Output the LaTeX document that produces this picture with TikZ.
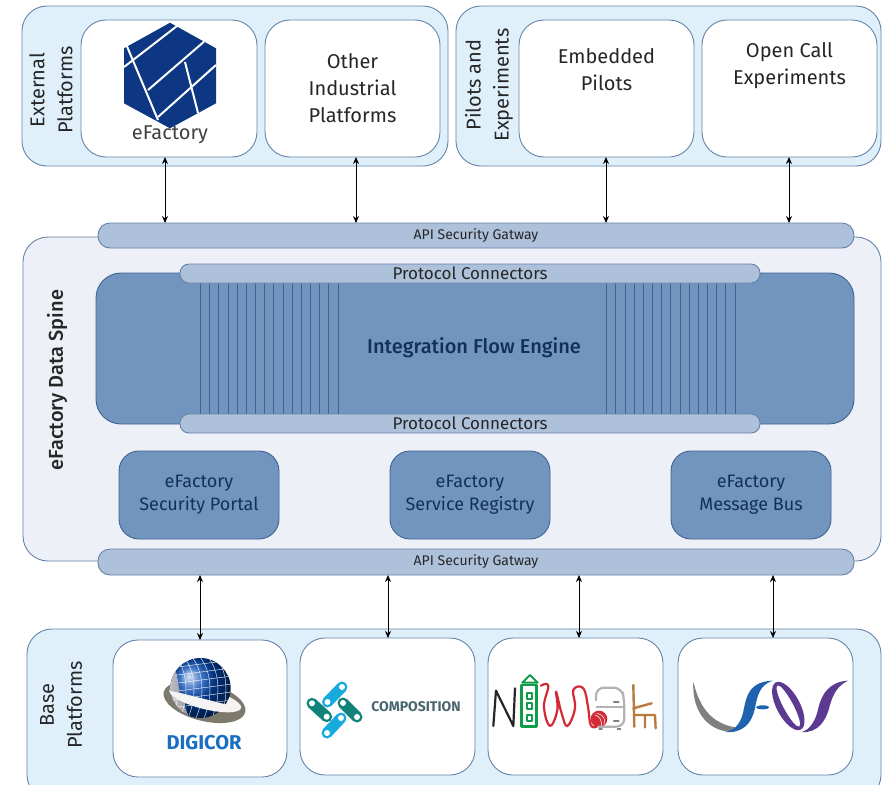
\documentclass[tikz,border=0pt]{standalone}
\usepackage{fontspec}
\setmainfont{Fira Sans}
\newfontfamily\medfont{Fira Sans Medium}
\usetikzlibrary{arrows.meta,shapes.geometric}
\definecolor{panelblue}{HTML}{DFF0FB}
\definecolor{panelline}{HTML}{6583A8}
\definecolor{spinefill}{HTML}{EDF1F7}
\definecolor{enginefill}{HTML}{7295C0}
\definecolor{engineline}{HTML}{3F6290}
\definecolor{barfill}{HTML}{AEC1DB}
\definecolor{navytext}{HTML}{14305A}
\definecolor{efblue}{HTML}{0D3782}
\definecolor{digiblue}{HTML}{1A6FC0}
\definecolor{ringgray}{HTML}{7D7A6C}
\definecolor{chainteal}{HTML}{12837A}
\definecolor{chainblue}{HTML}{17ABDC}
\definecolor{compgray}{HTML}{4A6670}
\definecolor{nimgreen}{HTML}{0F9D4A}
\definecolor{nimred}{HTML}{D42A35}
\definecolor{nimbrown}{HTML}{B97A3E}
\definecolor{fosblue}{HTML}{1F63AE}
\definecolor{fosviolet}{HTML}{5C3A92}
\tikzset{
  boxbase/.style={rounded corners=#1,inner sep=0pt,outer sep=0pt,line width=.9pt,align=center},
  panel/.style={boxbase=25pt,draw=panelline,fill=panelblue},
  whitebox/.style={boxbase=25pt,draw=panelline,fill=white,text=black!85,font=\fontsize{20}{27}\selectfont},
  spinepanel/.style={boxbase=25pt,draw=panelline,fill=spinefill},
  engine/.style={boxbase=25pt,draw=engineline,fill=enginefill,text=navytext,font=\medfont\fontsize{20}{24}\selectfont},
  smallbox/.style={boxbase=20pt,draw=engineline,fill=enginefill,text=navytext,font=\fontsize{18}{23}\selectfont},
  gatebar/.style={boxbase=12pt,draw=engineline!80,fill=barfill,text=black!85,font=\fontsize{14}{16}\selectfont},
  protobar/.style={boxbase=9pt,draw=engineline!80,fill=barfill,text=black!85,font=\fontsize{17}{18}\selectfont},
  sidelabel/.style={rotate=90,align=center,inner sep=0pt,text=black!85,font=\fontsize{20}{28}\selectfont},
  biarrow/.style={line width=.8pt,{Stealth[length=7pt,width=6pt]}-{Stealth[length=7pt,width=6pt]}},
  slat/.style={engineline,line width=.8pt},
  logotext/.style={inner sep=0pt,outer sep=0pt}
}
\newcommand{\bx}[7]{%
  \pgfmathsetmacro{\cxv}{(#2+#4)/2}\pgfmathsetmacro{\cyv}{(#3+#5)/2}%
  \pgfmathsetmacro{\wv}{#4-#2}\pgfmathsetmacro{\hv}{#5-#3}%
  \node[#6,minimum width=\wv pt,minimum height=\hv pt] (#1) at (\cxv,\cyv) {#7};}
\begin{document}
\begin{tikzpicture}[x=1pt,y=-1pt]
\clip (0,0) rectangle (887,785);
\fill[white] (0,0) rectangle (887,785);
% panels
\bx{ext}{22}{6}{448}{166}{panel}{}
\bx{pil}{456}{6}{881}{166}{panel}{}
\bx{spine}{23}{237}{881}{561}{spinepanel}{}
\bx{base}{27}{629}{881}{800}{panel}{}
% top boxes
\bx{efac}{81}{20}{257}{157}{whitebox}{}
\bx{other}{265}{20}{440}{157}{whitebox}{Other\\Industrial\\Platforms}
\bx{emb}{519}{20}{694}{157}{whitebox}{Embedded\\Pilots\\[12pt]}
\bx{open}{702}{20}{877}{157}{whitebox}{Open Call\\Experiments\\[24pt]}
\node[sidelabel] (extl) at (51,90) {External\\Platforms};
\node[sidelabel] (pill) at (489,85) {Pilots and\\Experiments};
\node[sidelabel,font=\medfont\fontsize{20}{24}\selectfont] (spl) at (57,380) {eFactory Data Spine};
\node[sidelabel] (basel) at (61,705) {Base\\Platforms};
% engine
\bx{eng}{96}{273}{854}{424}{engine}{}
\node[text=navytext,font=\medfont\fontsize{20}{24}\selectfont,inner sep=0pt] (engl) at (474,348) {Integration Flow Engine};
\foreach \i in {0,...,15}{\draw[slat] ({200.5+9.16*\i},280) -- ({200.5+9.16*\i},416);}
\foreach \i in {0,...,14}{\draw[slat] ({606.7+9.16*\i},280) -- ({606.7+9.16*\i},416);}
\bx{pt}{180}{264}{760}{283}{protobar}{}
\bx{pb}{180}{414}{760}{433}{protobar}{}
\node[inner sep=0pt,text=black!85,font=\fontsize{17}{18}\selectfont] (ptl) at (470,273) {Protocol Connectors};
\node[inner sep=0pt,text=black!85,font=\fontsize{17}{18}\selectfont] (pbl) at (470,423) {Protocol Connectors};
% services
\bx{sec}{119}{451}{279}{539}{smallbox}{eFactory\\Security Portal}
\bx{reg}{390}{451}{550}{539}{smallbox}{eFactory\\Service Registry}
\bx{bus}{671}{451}{831}{539}{smallbox}{eFactory\\Message Bus}
% gateways
\bx{gw}{98}{223}{854}{248}{gatebar}{API Security Gatway}
\bx{gb}{98}{549}{854}{575}{gatebar}{API Security Gatway}
% base boxes
\bx{digi}{113}{640}{287}{777}{whitebox}{}
\bx{comp}{300}{638}{475}{775}{whitebox}{}
\bx{nimb}{488}{638}{663}{775}{whitebox}{}
\bx{vfos}{678}{638}{853}{775}{whitebox}{}
% connectors
\coordinate (a1) at (165,200);\coordinate (a2) at (356,200);\coordinate (a3) at (606,200);\coordinate (a4) at (789,200);
\coordinate (b1) at (200,600);\coordinate (b2) at (388,600);\coordinate (b3) at (579,600);\coordinate (b4) at (773,600);
\draw[biarrow] (a1 |- efac.south) -- (a1 |- gw.north);
\draw[biarrow] (a2 |- other.south) -- (a2 |- gw.north);
\draw[biarrow] (a3 |- emb.south) -- (a3 |- gw.north);
\draw[biarrow] (a4 |- open.south) -- (a4 |- gw.north);
\draw[biarrow] (b1 |- gb.south) -- (b1 |- digi.north);
\draw[biarrow] (b2 |- gb.south) -- (b2 |- comp.north);
\draw[biarrow] (b3 |- gb.south) -- (b3 |- nimb.north);
\draw[biarrow] (b4 |- gb.south) -- (b4 |- vfos.north);
% eFactory logo
\begin{scope}
\fill[efblue] (170,22.7) -- (216,48.3) -- (216,103.3) -- (170,128.3) -- (124,103.3) -- (124,48.3) -- cycle;
\draw[white,line width=2pt] (177,26) -- (124,67);
\draw[white,line width=2pt] (126,44) -- (158,120);
\draw[white,line width=2pt] (204,41.7) -- (148,90);
\draw[white,line width=2pt] (185,62) -- (198,113);
\draw[white,line width=2pt] (216,65) -- (158,117);
\end{scope}
\node[logotext,text=black!75,font=\fontsize{20}{22}\selectfont] (efl) at (170,135) {eFactory};
% DIGICOR logo
\fill[ringgray,rotate around={-14:(204.5,702)}] (204.5,702) ellipse (42 and 19);
\shade[ball color=blue!60!cyan!70!black] (200.5,688) circle (30);
\begin{scope}
\clip (200.5,688) circle (30);
\shade[left color=white!90!black,right color=white!60!black,opacity=.95] (170,658) .. controls (180,675) and (180,695) .. (188,715) -- (165,715) -- (165,658) -- cycle;
\foreach \d in {-24,-16,-8,0,8,16,24}{
  \draw[white,line width=.4pt] (190+\d,655) .. controls (205+\d,670) and (205+\d,700) .. (195+\d,720);
  \draw[white,line width=.4pt] (170,684+\d) -- (232,676+\d);}
\end{scope}
\fill[white!92!ringgray,rotate around={-14:(204.5,702)}] (204.5,699) ellipse (37 and 10);
\begin{scope}
\clip[rotate around={-14:(204.5,702)}] (140,699) rectangle (270,670);
\shade[ball color=blue!60!cyan!70!black] (200.5,688) circle (30);
\clip (200.5,688) circle (30);
\foreach \d in {-24,-16,-8,0,8,16,24}{
  \draw[white,line width=.4pt] (190+\d,655) .. controls (205+\d,670) and (205+\d,700) .. (195+\d,720);
  \draw[white,line width=.4pt] (170,684+\d) -- (232,676+\d);}
\shade[left color=white!85!black,right color=white!60!black,opacity=.95] (170,658) .. controls (178,675) and (180,695) .. (184,715) -- (165,715) -- (165,658) -- cycle;
\end{scope}
\node[logotext,text=digiblue,font=\bfseries\fontsize{20}{22}\selectfont] (dgl) at (204,743) {DIGICOR};
% COMPOSITION logo
\foreach \xa/\ya/\xb/\yb/\cc in {327.5/702/342/687/chainblue,327/733/341/718/chainblue,312/703.3/326.7/716.7/chainteal,343/703/357/717/chainteal}{
  \draw[\cc,line width=11pt,line cap=round] (\xa,\ya) -- (\xb,\yb);
  \fill[white] (\xa,\ya) circle (3) (\xb,\yb) circle (3);}
\node[logotext,text=compgray,font=\bfseries\fontsize{14}{16}\selectfont] (cpl) at (416,707) {COMPOSITION};
% NIMBLE logo
\begin{scope}[shift={(480,620)},x=.3333pt,y=-.3333pt,line cap=round,line join=round]
\draw[black!85,line width=2.2pt] (40,318) -- (48,212) -- (100,318) -- (105,205);
\draw[nimgreen,line width=2.6pt] (124,195) rectangle (170,320);
\draw[nimgreen,line width=2pt] (150,165) -- (127,188) -- (173,188) -- cycle;
\foreach \yy in {228,258,294}{\draw[nimgreen,line width=2pt] (140,\yy-9) rectangle (156,\yy+9);}
\draw[nimred,line width=2.2pt] plot[smooth,tension=.7] coordinates {(183,197) (205,197) (192,260) (210,318) (232,270) (228,215) (245,280) (262,318) (285,265) (280,210) (310,205) (324,260) (332,315) (350,320)};
\fill[nimred] (357,297) circle (25);
\draw[white!80!nimred,line width=.7pt] (345,285) .. controls (360,290) and (365,300) .. (365,318) (352,280) .. controls (372,285) and (378,300) .. (372,312);
\draw[black!30,line width=2.2pt,rounded corners=8pt] (348,240) -- (348,203) -- (425,203) -- (433,240) -- (433,320) -- (355,320);
\draw[black!30,line width=2.2pt] (350,262) -- (430,262);
\draw[black!50,line width=2pt] (402,246) -- (416,246) (402,304) -- (416,304) (358,326) -- (366,326) (413,326) -- (421,326);
\draw[nimbrown,line width=2.4pt] (460,195) -- (463,320) (460,265) -- (515,250) (465,285) -- (525,285) (495,285) -- (495,322) (525,285) -- (527,325);
\end{scope}
% vFOS logo
\begin{scope}[shift={(480,620)},x=.3333pt,y=-.3333pt]
\fill[black!50] (640,185) .. controls (635,280) and (690,340) .. (765,335) -- (765,322) .. controls (700,310) and (660,270) .. cycle;
\fill[fosblue] (878,182) .. controls (810,185) and (800,225) .. (792,265) .. controls (785,305) and (770,330) .. (735,336) .. controls (790,340) and (815,310) .. (825,265) .. controls (832,225) and (840,195) .. cycle;
\fill[fosblue] (848,262) ellipse (20 and 6);
\fill[fosviolet,even odd rule,rotate around={28:(925,258)}] (925,258) ellipse (35 and 80) (925,258) ellipse (15 and 70);
\fill[fosviolet] (1105,182) .. controls (1050,185) and (1025,220) .. (1015,265) .. controls (1008,300) and (990,330) .. (965,336) .. controls (1015,340) and (1040,300) .. (1050,255) .. controls (1060,220) and (1075,195) .. cycle;
\end{scope}
\end{tikzpicture}
\end{document}
